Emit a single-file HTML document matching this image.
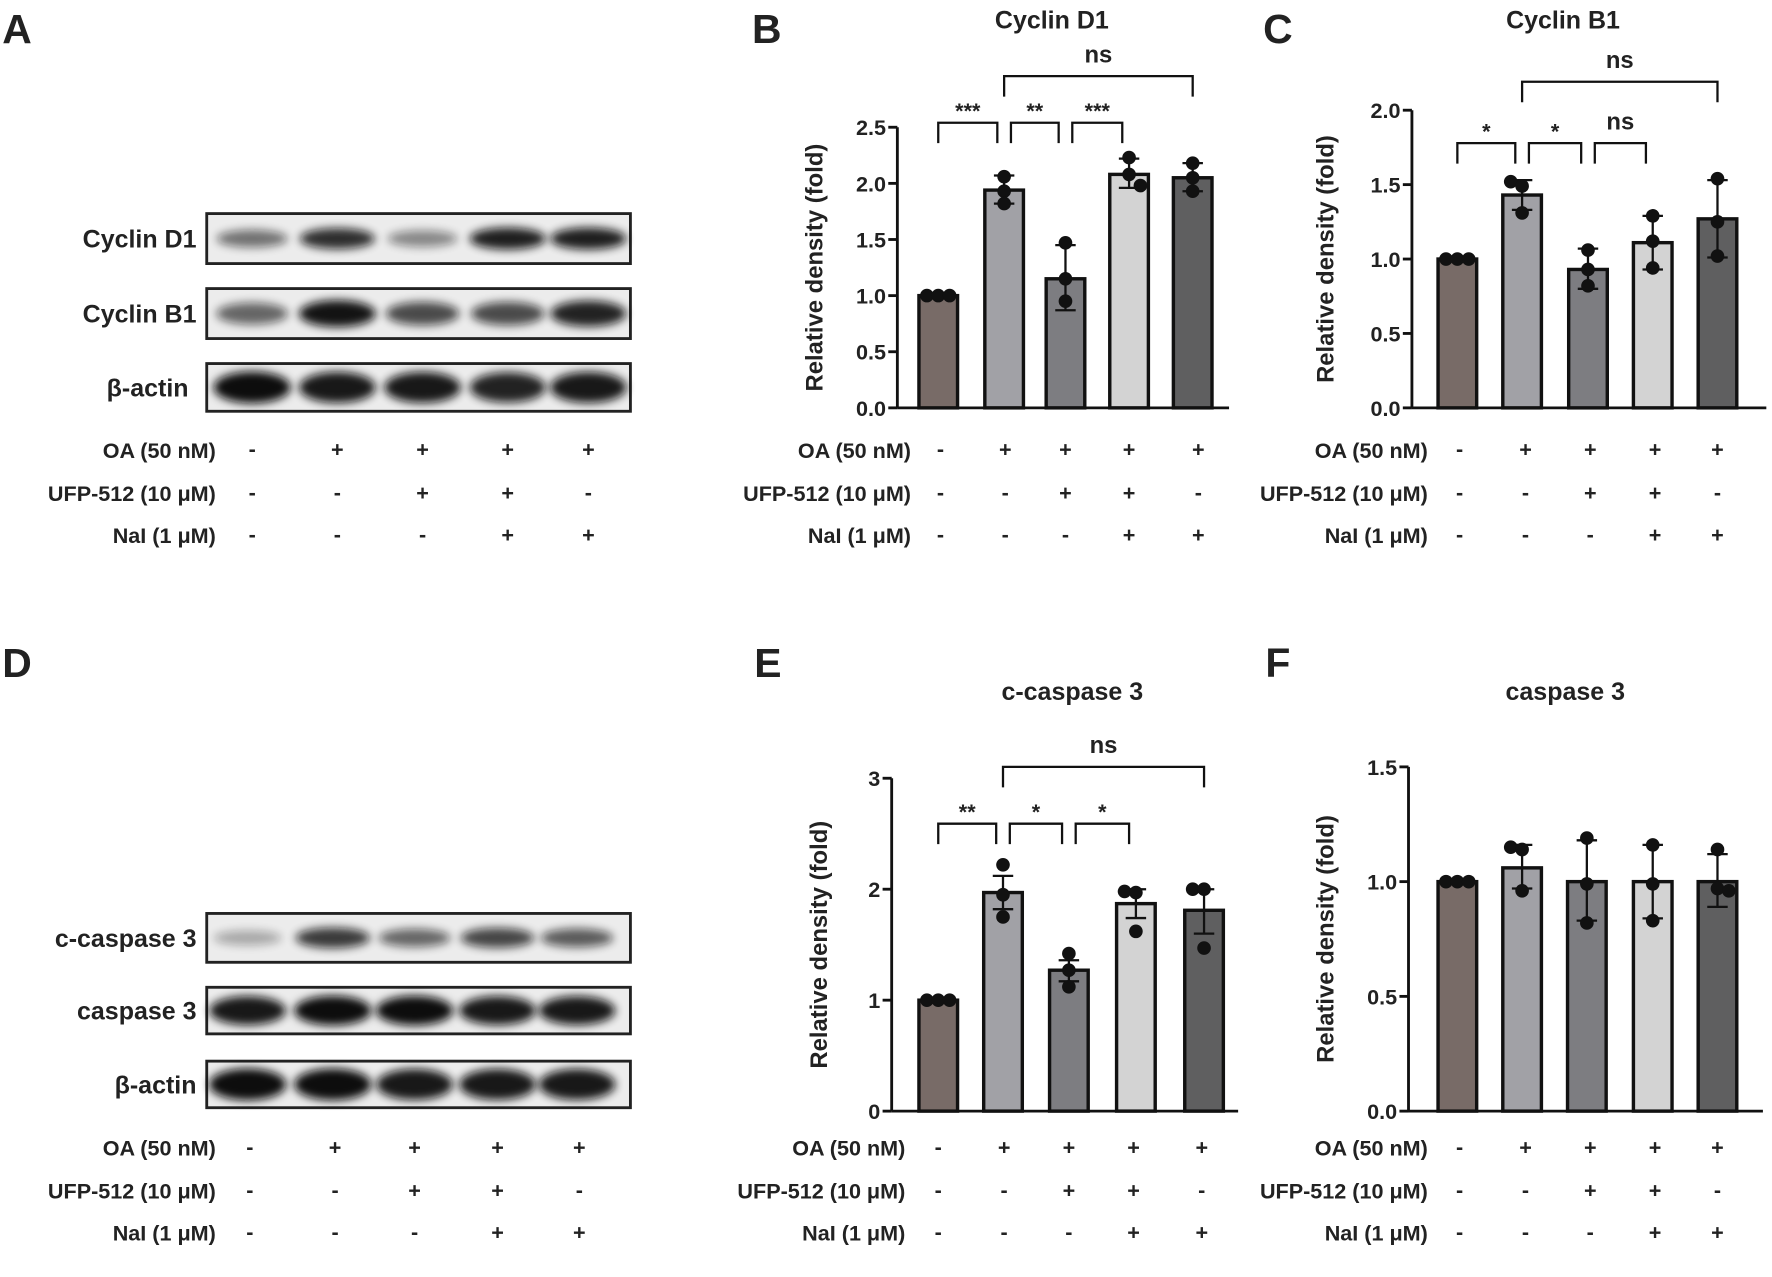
<!DOCTYPE html>
<html><head><meta charset="utf-8"><style>
html,body{margin:0;padding:0;background:#fff;}
svg{display:block;font-family:"Liberation Sans",sans-serif;font-weight:bold;}
</style></head><body>
<svg id="fig" width="1772" height="1277" viewBox="0 0 1560 1124" preserveAspectRatio="none">
<defs>
<filter id="blur" x="-30%" y="-80%" width="160%" height="260%"><feGaussianBlur stdDeviation="4"/></filter>
</defs>
</svg>
<script>
// ---------- data ----------
const groups = ["G1","G2","G3","G4","G5"];
const barColors = ["#786b67","#a1a1a6","#7d7d81","#d3d3d3","#5f5f60"];
const oaSigns  = ["-","+","+","+","+"];
const ufpSigns = ["-","-","+","+","-"];
const naiSigns = ["-","-","-","+","+"];
const rowLabels = ["OA (50 nM)","UFP-512 (10 μM)","NaI (1 μM)"];

const bValues = [1.0, 1.94, 1.15, 2.08, 2.05];
const bErrHi  = [1.0, 2.07, 1.45, 2.22, 2.18];
const bErrLo  = [1.0, 1.82, 0.87, 1.96, 1.93];
const bPoints = [[1,1,1],[2.06,1.93,1.82],[1.47,1.15,0.95],[2.23,2.08,1.98],[2.18,2.05,1.93]];
const bTicks  = [0,0.5,1.0,1.5,2.0,2.5];
const bTickLabels = ["0.0","0.5","1.0","1.5","2.0","2.5"];
const bSig = [[0,1,"***"],[1,2,"**"],[2,3,"***"],[1,4,"ns"]];

const cValues = [1.0, 1.43, 0.93, 1.11, 1.27];
const cErrHi  = [1.0, 1.53, 1.07, 1.29, 1.53];
const cErrLo  = [1.0, 1.33, 0.80, 0.93, 1.01];
const cPoints = [[1,1,1],[1.52,1.49,1.31],[1.06,0.93,0.82],[1.29,1.12,0.94],[1.54,1.25,1.02]];
const cTicks  = [0,0.5,1.0,1.5,2.0];
const cTickLabels = ["0.0","0.5","1.0","1.5","2.0"];
const cSig = [[0,1,"*"],[1,2,"*"],[2,3,"ns"],[1,4,"ns"]];

const eValues = [1.0, 1.97, 1.27, 1.87, 1.81];
const eErrHi  = [1.0, 2.12, 1.36, 2.00, 2.00];
const eErrLo  = [1.0, 1.82, 1.17, 1.74, 1.60];
const ePoints = [[1,1,1],[2.22,1.95,1.75],[1.42,1.27,1.12],[1.98,1.97,1.62],[2.0,2.0,1.47]];
const eTicks  = [0,1,2,3];
const eTickLabels = ["0","1","2","3"];
const eSig = [[0,1,"**"],[1,2,"*"],[2,3,"*"],[1,4,"ns"]];

const fValues = [1.0, 1.06, 1.0, 1.0, 1.0];
const fErrHi  = [1.0, 1.16, 1.18, 1.16, 1.12];
const fErrLo  = [1.0, 0.97, 0.83, 0.84, 0.89];
const fPoints = [[1,1,1],[1.15,1.14,0.96],[1.19,0.99,0.82],[1.16,0.99,0.83],[1.14,0.97,0.96]];
const fTicks  = [0,0.5,1.0,1.5];
const fTickLabels = ["0.0","0.5","1.0","1.5"];
const fSig = [];

// blot band intensities (0..1)
const blotD1 = [0.55,0.85,0.45,0.92,0.92];
const blotB1 = [0.6,0.97,0.72,0.72,0.9];
const blotActinA = [1,0.95,0.95,0.9,0.95];
const blotCC3 = [0.3,0.8,0.6,0.75,0.65];
const blotC3 = [0.95,1,1,0.95,0.95];
const blotActinD = [1,1,0.95,0.95,0.95];

// ---------- drawing ----------
const NS="http://www.w3.org/2000/svg";
const svg=document.getElementById('fig');
function mk(tag,attrs,parent){const e=document.createElementNS(NS,tag);for(const k in attrs)e.setAttribute(k,attrs[k]);(parent||svg).appendChild(e);return e;}
function txt(x,y,s,size,anchor,parent){const t=mk('text',{x:x,y:y,'font-size':size,'text-anchor':anchor||'middle',fill:'#222'},parent);t.textContent=s;return t;}

function letter(x,y,s){const t=txt(x,y,s,36,'start');}
letter(2,38,"A");letter(662,38,"B");letter(1112,38,"C");
letter(2,596,"D");letter(664,596,"E");letter(1114,596,"F");

function treatRows(name,labelRight,lanes,ys){
  const g=mk('g',{});
  
  
  const sets=[oaSigns,ufpSigns,naiSigns];
  for(let r=0;r<3;r++){
    txt(labelRight,ys[r]+7,rowLabels[r],19,'end',g);
    for(let i=0;i<5;i++){txt(lanes[i],ys[r]+6,sets[r][i],19,'middle',g);}
  }
}

function blot(name,label,x0,x1,y0,y1,lanes,vals,bandH,labelRight){
  const g=mk('g',{});
  
  
  txt(labelRight,(y0+y1)/2+8,label,22,'end',g);
  mk('rect',{x:x0,y:y0,width:x1-x0,height:y1-y0,fill:'#ececec',stroke:'#222','stroke-width':2.5},g);
  for(let i=0;i<5;i++){
    const v=vals[i];
    const e=mk('ellipse',{cx:lanes[i],cy:(y0+y1)/2,rx:28+v*6,ry:bandH*(0.5+0.5*v),fill:'#111',opacity:v,filter:'url(#blur)'},g);
    
    
  }
}
const lanesA=[222,297,372,447,518];
blot('blot-cyclin-d1','Cyclin D1',182,555,188,232,lanesA,blotD1,10,173);
blot('blot-cyclin-b1','Cyclin B1',182,555,254,298,lanesA,blotB1,12,173);
blot('blot-beta-actin-a','β-actin',182,555,320,362,lanesA,blotActinA,14,166);
treatRows('treatment-table-a',190,[222,297,372,447,518],[396,434,471]);
const lanesD=[218,293,365,438,508];
blot('blot-c-caspase-3','c-caspase 3',182,555,804,847,lanesD,blotCC3,10,173);
blot('blot-caspase-3','caspase 3',182,555,869,910,lanesD,blotC3,13,173);
blot('blot-beta-actin-d','β-actin',182,555,934,975,lanesD,blotActinD,14,173);
treatRows('treatment-table-d',190,[220,295,365,438,510],[1010,1048,1085]);

function chart(id,L,title,values,hi,lo,points,ticks,tickLabels,sig){
  const g=mk('g',{});
  
  
  const ymax=ticks[ticks.length-1];
  const Y=v=>L.y0-(v/ymax)*(L.y0-L.y1);
  const X=i=>L.cx[i];
  const t=txt(L.titleX,L.titleY,title,22,'middle',g);
  
  const yt=txt(0,0,'Relative density (fold)',21,'middle',g);
  yt.setAttribute('transform','translate('+L.ytX+','+((L.y0+L.y1)/2)+') rotate(-90)');
  
  // bars
  for(let i=0;i<values.length;i++){
    const r=mk('rect',{x:X(i)-17,y:Y(values[i]),width:34,height:L.y0-Y(values[i]),fill:barColors[i],stroke:'#111','stroke-width':3},g);
    
    
  }
  // axes
  mk('line',{x1:L.ax,y1:L.y1,x2:L.ax,y2:L.y0,stroke:'#111','stroke-width':2.5},g);
  mk('line',{x1:L.ax,y1:L.y0,x2:L.xEnd,y2:L.y0,stroke:'#111','stroke-width':2.5},g);
  for(let k=0;k<ticks.length;k++){
    mk('line',{x1:L.ax-8,y1:Y(ticks[k]),x2:L.ax,y2:Y(ticks[k]),stroke:'#111','stroke-width':2.5},g);
    const tl=txt(L.ax-10,Y(ticks[k])+7,tickLabels[k],19,'end',g);
    
  }
  // error bars
  for(let i=0;i<values.length;i++){
    if(hi[i]===lo[i])continue;
    const e=mk('path',{d:'M'+X(i)+' '+Y(hi[i])+'V'+Y(lo[i])+'M'+(X(i)-9)+' '+Y(hi[i])+'H'+(X(i)+9)+'M'+(X(i)-9)+' '+Y(lo[i])+'H'+(X(i)+9),stroke:'#111','stroke-width':2,fill:'none'},g);
    
    
  }
  // points
  const offs=[-10,0,10];
  for(let i=0;i<points.length;i++){
    for(let j=0;j<points[i].length;j++){
      const near=points[i].filter(p=>Math.abs(Y(p)-Y(points[i][j]))<10).length>1;
      const dx=near?offs[j]:0;
      const c=mk('circle',{cx:X(i)+dx,cy:Y(points[i][j]),r:6,fill:'#111'},g);
      
      
    }
  }
  // significance
  for(let s=0;s<sig.length;s++){
    const [a,b,lab]=sig[s];
    const top=(b-a>1)?L.sigTop:L.sigLow;
    const xa=X(a)+(a===0||b-a>1?0:6), xb=X(b)-(b-a>1?0:6);
    const ya=(b-a>1)?top:top; 
    mk('path',{d:'M'+(xa+(b-a>1?0:0))+' '+(top+18)+'V'+top+'H'+xb+'V'+(top+18),stroke:'#111','stroke-width':2,fill:'none'},g);
    const st=txt((xa+xb)/2,lab==='ns'?top-12:top-4,lab,lab==='ns'?21:19,'middle',g);
    
  }
}
chart('cyclin-d1',{ax:790,y0:359,y1:112,xEnd:1082,cx:[826,884,938,994,1050],titleX:926,titleY:25,ytX:724,sigTop:67,sigLow:108},
  'Cyclin D1',bValues,bErrHi,bErrLo,bPoints,bTicks,bTickLabels,bSig);
chart('cyclin-b1',{ax:1243,y0:359,y1:97,xEnd:1555,cx:[1283,1340,1398,1455,1512],titleX:1376,titleY:25,ytX:1174,sigTop:72,sigLow:126},
  'Cyclin B1',cValues,cErrHi,cErrLo,cPoints,cTicks,cTickLabels,cSig);
chart('c-caspase-3',{ax:785,y0:978,y1:685,xEnd:1090,cx:[826,883,941,1000,1060],titleX:944,titleY:616,ytX:728,sigTop:675,sigLow:725},
  'c-caspase 3',eValues,eErrHi,eErrLo,ePoints,eTicks,eTickLabels,eSig);
chart('caspase-3',{ax:1240,y0:978,y1:675,xEnd:1552,cx:[1283,1340,1397,1455,1512],titleX:1378,titleY:616,ytX:1174,sigTop:0,sigLow:0},
  'caspase 3',fValues,fErrHi,fErrLo,fPoints,fTicks,fTickLabels,fSig);

treatRows('treatment-table-b',802,[828,885,938,994,1055],[396,434,471]);
treatRows('treatment-table-c',1257,[1285,1343,1400,1457,1512],[396,434,471]);
treatRows('treatment-table-e',797,[826,884,941,998,1058],[1010,1048,1085]);
treatRows('treatment-table-f',1257,[1285,1343,1400,1457,1512],[1010,1048,1085]);
</script>
</body></html>
